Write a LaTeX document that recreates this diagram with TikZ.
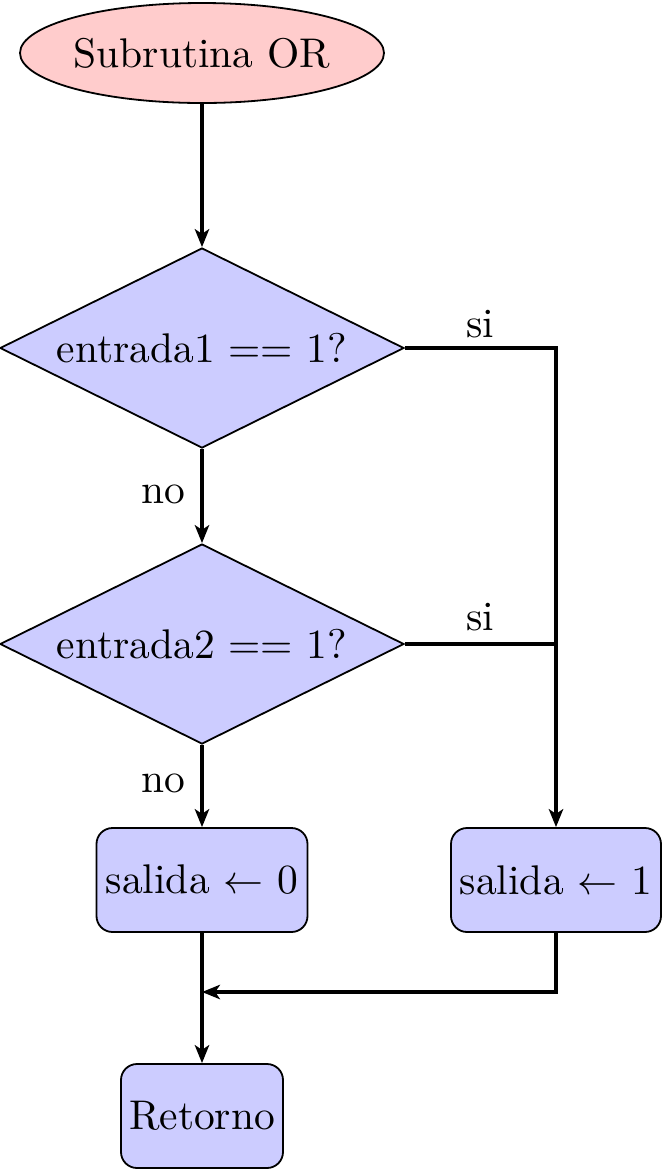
\documentclass[tikz,border=0pt]{standalone}
\usetikzlibrary{shapes.geometric,arrows.meta,calc}
\begin{document}
\begin{tikzpicture}[x=0.25pt,y=-0.25pt,
  every node/.style={font=\fontsize{10.37pt}{12.4pt}\selectfont},
  startnode/.style={ellipse,draw,fill=red!20,minimum width=91pt,minimum height=25pt,inner sep=0pt,line width=0.45pt},
  decision/.style={diamond,draw,fill=blue!20,aspect=2,minimum width=101pt,minimum height=50pt,inner sep=0pt,line width=0.45pt},
  procbox/.style={rectangle,rounded corners=4pt,draw,fill=blue!20,minimum height=26pt,inner sep=1.5pt,line width=0.45pt},
  flow/.style={line width=0.8pt,-{Stealth[length=4.5pt,width=3.6pt,inset=1.2pt]}},
  plain/.style={line width=0.8pt},
  lbl/.style={inner sep=0pt}]
\useasboundingbox (0,0) rectangle (662,1169);
\node[startnode] (start) at (202,53) {Subrutina OR};
\node[decision] (d1) at (202,348) {entrada1 == 1?};
\node[decision] (d2) at (202,644) {entrada2 == 1?};
\node[procbox,minimum width=52.75pt] (b0) at (202,880) {salida $\leftarrow$ 0};
\node[procbox,minimum width=52.5pt] (b1) at (556,880) {salida $\leftarrow$ 1};
\node[procbox,minimum width=40.5pt] (ret) at (202,1116) {Retorno};
\coordinate (merge) at (202,992);
\coordinate (j2) at (d2.east -| b1.north);
\draw[flow] (start.south) -- (d1.north);
\draw[flow] (d1.south) -- (d2.north);
\draw[flow] (d2.south) -- (b0.north);
\draw[flow] (d1.east) -| (b1.north);
\draw[plain] (d2.east) -- (j2);
\draw[flow] (b0.south) -- (ret.north);
\draw[flow] (b1.south) |- (merge);
\node[lbl] (si1) at (480,324) {si};
\node[lbl] (si2) at (480,617) {si};
\node[lbl] (no1) at (163,494) {no};
\node[lbl] (no2) at (163,783) {no};
\end{tikzpicture}
\end{document}
